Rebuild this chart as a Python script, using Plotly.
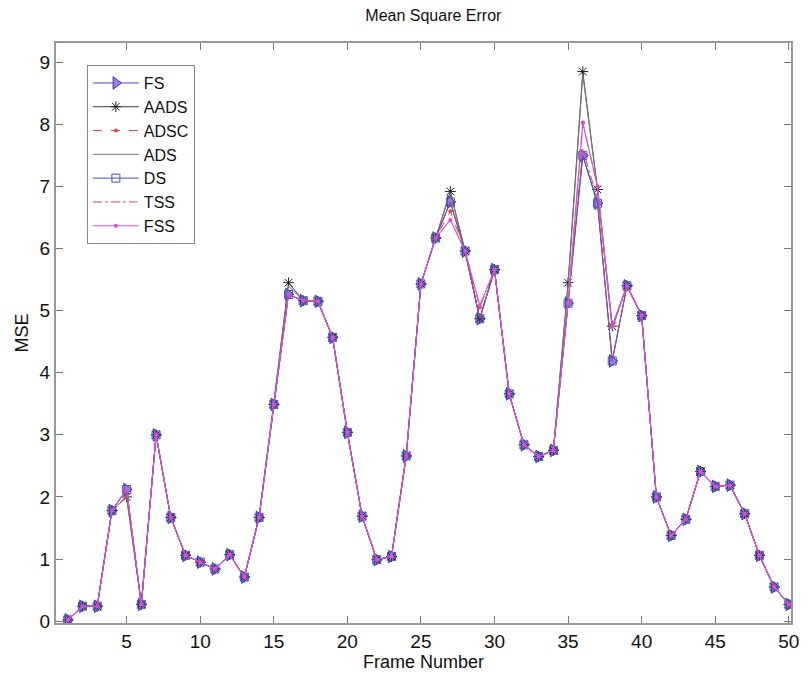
import plotly.graph_objects as go

frames = list(range(1, 51))

fs = [0.02, 0.24, 0.24, 1.78, 2.12, 0.27, 3.0, 1.67, 1.06, 0.95,
      0.84, 1.07, 0.71, 1.67, 3.49, 5.26, 5.16, 5.15, 4.57, 3.04,
      1.69, 0.99, 1.04, 2.66, 5.43, 6.17, 6.75, 5.96, 4.87, 5.66,
      3.66, 2.84, 2.65, 2.75, 5.12, 7.5, 6.73, 4.19, 5.4, 4.92,
      2.0, 1.38, 1.64, 2.41, 2.17, 2.19, 1.73, 1.06, 0.55, 0.27]

aads = fs.copy()
aads[4] = 2.0; aads[15] = 5.45; aads[26] = 6.92; aads[34] = 5.45
aads[35] = 8.85; aads[36] = 6.95; aads[37] = 4.75

adsc = fs.copy()
adsc[4] = 2.02; adsc[26] = 6.6; adsc[28] = 5.05; adsc[35] = 8.03
adsc[36] = 7.0; adsc[37] = 4.75

ads = fs.copy()
ads[4] = 2.0; ads[15] = 5.4; ads[26] = 6.9; ads[34] = 5.4
ads[35] = 8.8; ads[36] = 6.95; ads[37] = 4.7

ds = fs.copy()

tss = fs.copy()
tss[35] = 7.6; tss[36] = 6.8

fss = fs.copy()
fss[26] = 6.46; fss[28] = 5.08; fss[35] = 8.02; fss[36] = 7.0; fss[37] = 4.75

series = [
    ("FS", fs, dict(color="#4848c8", width=1, dash="solid"),
     dict(symbol="triangle-right", size=11, color="#a27ce8", line=dict(color="#3a3ab0", width=1))),
    ("AADS", aads, dict(color="#3a3a3a", width=1, dash="solid"),
     dict(symbol="asterisk-open", size=9, color="#222222", line=dict(color="#222222", width=1))),
    ("ADSC", adsc, dict(color="#d84848", width=1, dash="dash"),
     dict(symbol="circle", size=4, color="#d84848")),
    ("ADS", ads, dict(color="#7a7a7a", width=1, dash="solid"), None),
    ("DS", ds, dict(color="#4050c8", width=1, dash="solid"),
     dict(symbol="square-open", size=8, color="#4050c8", line=dict(color="#4050c8", width=1))),
    ("TSS", tss, dict(color="#d04860", width=1, dash="dashdot"), None),
    ("FSS", fss, dict(color="#d850d8", width=1.2, dash="solid"),
     dict(symbol="circle", size=4, color="#d850d8")),
]

fig = go.Figure()
for name, vals, line, marker in series:
    fig.add_trace(go.Scatter(
        x=frames, y=vals, name=name,
        mode="lines+markers" if marker else "lines",
        line=line, marker=marker if marker else None,
    ))

font_family = "Liberation Sans, Arial, sans-serif"
fig.update_layout(
    width=810, height=685,
    margin=dict(l=56, r=11, t=43, b=62),
    paper_bgcolor="white", plot_bgcolor="white",
    font=dict(family=font_family, color="#111111"),
    title=dict(text="Mean Square Error", x=0.535, xanchor="center", y=0.985, yanchor="top",
               font=dict(size=16, family=font_family)),
    showlegend=True,
    legend=dict(x=0.042, y=0.962, xanchor="left", yanchor="top",
                bgcolor="white", bordercolor="#888888", borderwidth=1,
                font=dict(size=16, family=font_family),
                itemwidth=46, tracegroupgap=0),
    xaxis=dict(range=[0.2, 50.15], tickmode="array", tickvals=list(range(5, 51, 5)),
               ticks="inside", ticklen=7, tickcolor="#777777",
               showline=True, linecolor="#999999", linewidth=2, mirror="ticks",
               showgrid=False, zeroline=False,
               tickfont=dict(size=19, family=font_family),
               title=dict(text="Frame Number", font=dict(size=18, family=font_family), standoff=4)),
    yaxis=dict(range=[-0.03, 9.31], tickmode="array", tickvals=list(range(0, 10)),
               ticks="inside", ticklen=7, tickcolor="#777777",
               showline=True, linecolor="#999999", linewidth=2, mirror="ticks",
               showgrid=False, zeroline=False,
               tickfont=dict(size=19, family=font_family),
               title=dict(text="MSE", font=dict(size=18, family=font_family), standoff=6)),
)

fig.write_html("out.html")
